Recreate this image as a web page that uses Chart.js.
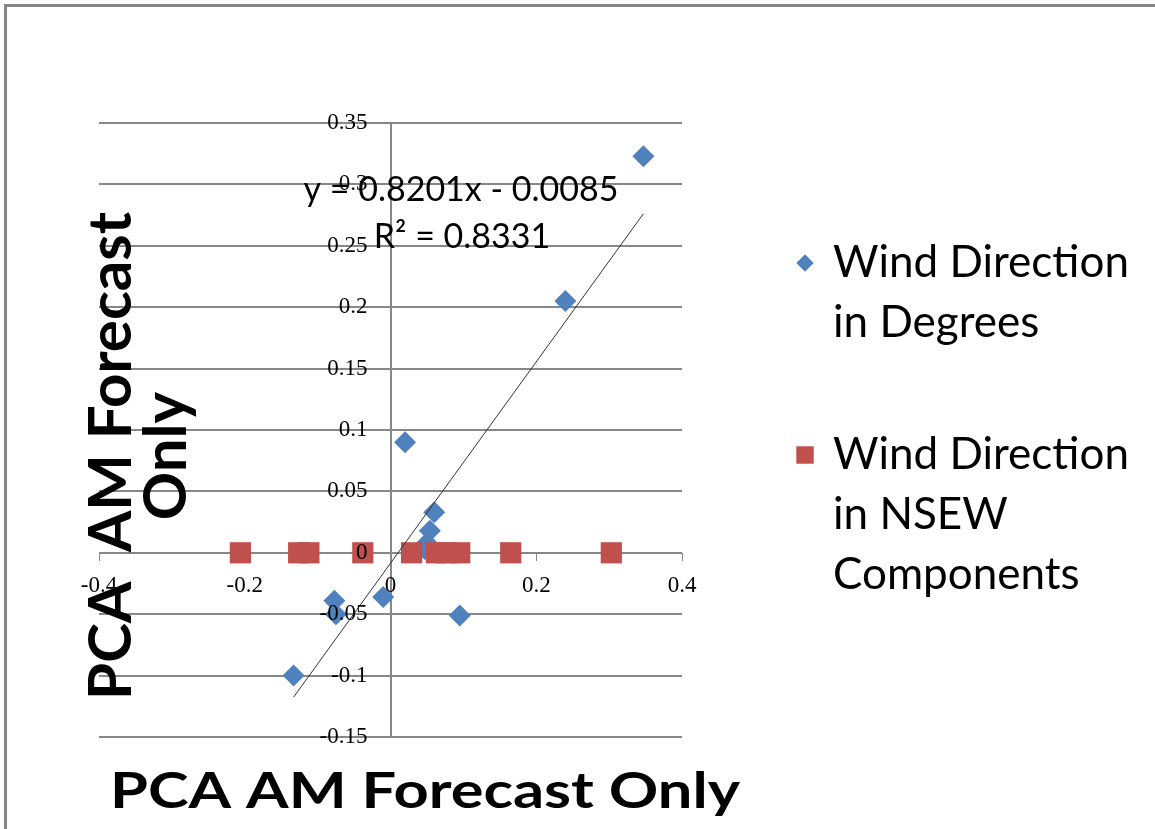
<!DOCTYPE html>
<html>
<head>
<meta charset="utf-8">
<script src="https://cdn.jsdelivr.net/npm/chart.js@4/dist/chart.umd.min.js"></script>
<style>
  html, body { margin: 0; padding: 0; background: #fff; overflow: hidden; }
  #wrap { position: relative; width: 1155px; height: 829px; }
</style>
</head>
<body>
<div id="wrap"><canvas id="c" width="1155" height="829"></canvas></div>
<script>
// Axis ticks
const xTickValues = [-0.4, -0.2, 0, 0.2, 0.4];
const yTickValues = [-0.15, -0.1, -0.05, 0, 0.05, 0.1, 0.15, 0.2, 0.25, 0.3, 0.35];

// Wind direction in degrees
const degreesX = [0.347, 0.240, 0.020, 0.060, 0.054, 0.050, 0.047, -0.010, -0.077, -0.075, 0.095, -0.133];
const degreesY = [0.323, 0.205, 0.090, 0.033, 0.018, 0.008, 0.003, -0.036, -0.039, -0.050, -0.051, -0.100];

// Wind direction in NSEW components
const nsewX = [-0.206, -0.126, -0.112, -0.038, 0.029, 0.063, 0.077, 0.095, 0.165, 0.303];
const nsewY = [0, 0, 0, 0, 0, 0, 0, 0, 0, 0];

// Linear fit of the degrees series
const trendSlope = 0.8201;
const trendIntercept = -0.0085;
const trendR2 = 0.8331;

const seriesLabels = ['Wind Direction in Degrees', 'Wind Direction in NSEW Components'];
const axisTitle = 'PCA AM Forecast Only';
const yAxisTitleLines = ['PCA  AM Forecast', 'Only'];

const GRID = '#878787';
const BLUE = '#4F81BD';
const RED = '#C0504D';
const LABEL_FONT = 'Lato, "Open Sans", sans-serif';
const TICK_FONT = { family: '"Liberation Serif", serif', size: 23 };

const toPoints = (xs, ys) => xs.map((x, i) => ({ x: x, y: ys[i] }));
const trendXs = [Math.min(...degreesX), Math.max(...degreesX)];
const trendPoints = trendXs.map(x => ({ x: x, y: trendSlope * x + trendIntercept }));

const fmt = v => String(Number(v.toFixed(4)));

// Linear scale whose labels, when the axis crosses the other scale,
// sit a padding's distance away from the axis line.
class CrossingLinearScale extends Chart.LinearScale {
  _computeLabelItems(chartArea) {
    const items = super._computeLabelItems(chartArea);
    if (!this.isHorizontal()) {
      const gap = this.options.ticks.padding;
      items.forEach(item => { item.options.translation[0] -= gap; });
    }
    return items;
  }
}
CrossingLinearScale.id = 'crossingLinear';
CrossingLinearScale.defaults = Chart.LinearScale.defaults;
Chart.register(CrossingLinearScale);

function wrapWords(ctx, text, maxWidth) {
  const words = text.split(' ');
  const lines = [];
  let cur = '';
  words.forEach(w => {
    const t = cur ? cur + ' ' + w : w;
    if (cur && ctx.measureText(t).width > maxWidth) { lines.push(cur); cur = w; }
    else cur = t;
  });
  if (cur) lines.push(cur);
  return lines;
}

const decor = {
  id: 'decor',
  beforeDraw(chart) {
    const ctx = chart.ctx;
    ctx.save();
    ctx.strokeStyle = GRID;
    ctx.lineWidth = 3;
    ctx.strokeRect(5.5, 5.5, 3000, 3000);
    ctx.restore();
  },
  afterDraw(chart) {
    const ctx = chart.ctx;
    ctx.save();
    ctx.fillStyle = '#000';
    ctx.textBaseline = 'alphabetic';

    // Horizontal axis title, widened to its box
    ctx.font = 'bold 49px ' + LABEL_FONT;
    ctx.textAlign = 'left';
    const tw = ctx.measureText(axisTitle).width;
    ctx.save();
    ctx.translate(110, 808);
    ctx.scale(630 / tw, 1);
    ctx.fillText(axisTitle, 0, 0);
    ctx.restore();

    // Vertical axis title, two lines reading upward
    ctx.font = 'bold 60px ' + LABEL_FONT;
    ctx.textAlign = 'center';
    ctx.save();
    ctx.translate(0, 456);
    ctx.rotate(-Math.PI / 2);
    ctx.fillText(yAxisTitleLines[0], 0, 131);
    ctx.fillText(yAxisTitleLines[1], 0, 186);
    ctx.restore();

    // Trendline equation
    ctx.font = '34px ' + LABEL_FONT;
    ctx.textAlign = 'center';
    const sign = trendIntercept < 0 ? ' - ' : ' + ';
    ctx.fillText('y = ' + fmt(trendSlope) + 'x' + sign + fmt(Math.abs(trendIntercept)), 461, 201);
    ctx.fillText('R\u00B2 = ' + fmt(trendR2), 462, 248);

    // Legend
    ctx.font = '44px ' + LABEL_FONT;
    ctx.textAlign = 'left';
    const legendDatasets = chart.data.datasets.filter(d => d.showInLegend);
    const firstBaselines = [277, 469];
    legendDatasets.forEach((ds, i) => {
      const lines = wrapWords(ctx, ds.label, 310);
      const base = firstBaselines[i];
      ctx.fillStyle = '#000';
      lines.forEach((ln, j) => ctx.fillText(ln, 833, base + j * 60));
      ctx.fillStyle = ds.backgroundColor;
      Chart.helpers.drawPoint(ctx, {
        pointStyle: ds.pointStyle,
        rotation: 0,
        borderWidth: 0,
        radius: ds.legendRadius
      }, 805, base - 14);
      ctx.fill();
    });
    ctx.restore();
  }
};

new Chart(document.getElementById('c'), {
  type: 'scatter',
  data: {
    datasets: [
      {
        label: seriesLabels[0],
        data: toPoints(degreesX, degreesY),
        pointStyle: 'rectRot',
        pointRadius: 11,
        backgroundColor: BLUE,
        borderColor: BLUE,
        borderWidth: 0,
        order: 2,
        showInLegend: true,
        legendRadius: 8.5
      },
      {
        label: seriesLabels[1],
        data: toPoints(nsewX, nsewY),
        pointStyle: 'rect',
        pointRadius: 15,
        backgroundColor: RED,
        borderColor: RED,
        borderWidth: 0,
        order: 1,
        showInLegend: true,
        legendRadius: 12
      },
      {
        label: 'Linear (' + seriesLabels[0] + ')',
        data: trendPoints,
        showLine: true,
        borderColor: '#333',
        borderWidth: 1,
        pointRadius: 0,
        fill: false,
        order: 0
      }
    ]
  },
  options: {
    responsive: false,
    animation: false,
    devicePixelRatio: 1,
    layout: { padding: { left: 99, top: 123, right: 473, bottom: 92 } },
    plugins: { legend: { display: false }, tooltip: { enabled: false }, title: { display: false } },
    scales: {
      x: {
        type: 'linear',
        position: { y: 0 },
        min: -0.4,
        max: 0.4,
        afterBuildTicks: s => { s.ticks = xTickValues.map(v => ({ value: v })); },
        grid: { drawOnChartArea: false, drawTicks: true, tickLength: 8, color: GRID, tickWidth: 1 },
        border: { display: false },
        ticks: {
          z: 1,
          padding: 11,
          autoSkip: false,
          maxRotation: 0,
          color: '#000',
          font: TICK_FONT,
          callback: v => fmt(v)
        }
      },
      y: {
        type: 'crossingLinear',
        position: { x: 0 },
        min: -0.15,
        max: 0.35,
        afterBuildTicks: s => { s.ticks = yTickValues.map(v => ({ value: v })); },
        grid: { drawOnChartArea: true, drawTicks: false, color: GRID, lineWidth: 2 },
        border: { display: true, color: GRID, width: 2 },
        ticks: {
          z: 1,
          padding: 23,
          autoSkip: false,
          color: '#000',
          font: TICK_FONT,
          callback: v => fmt(v)
        }
      }
    }
  },
  plugins: [decor]
});
</script>
</body>
</html>
